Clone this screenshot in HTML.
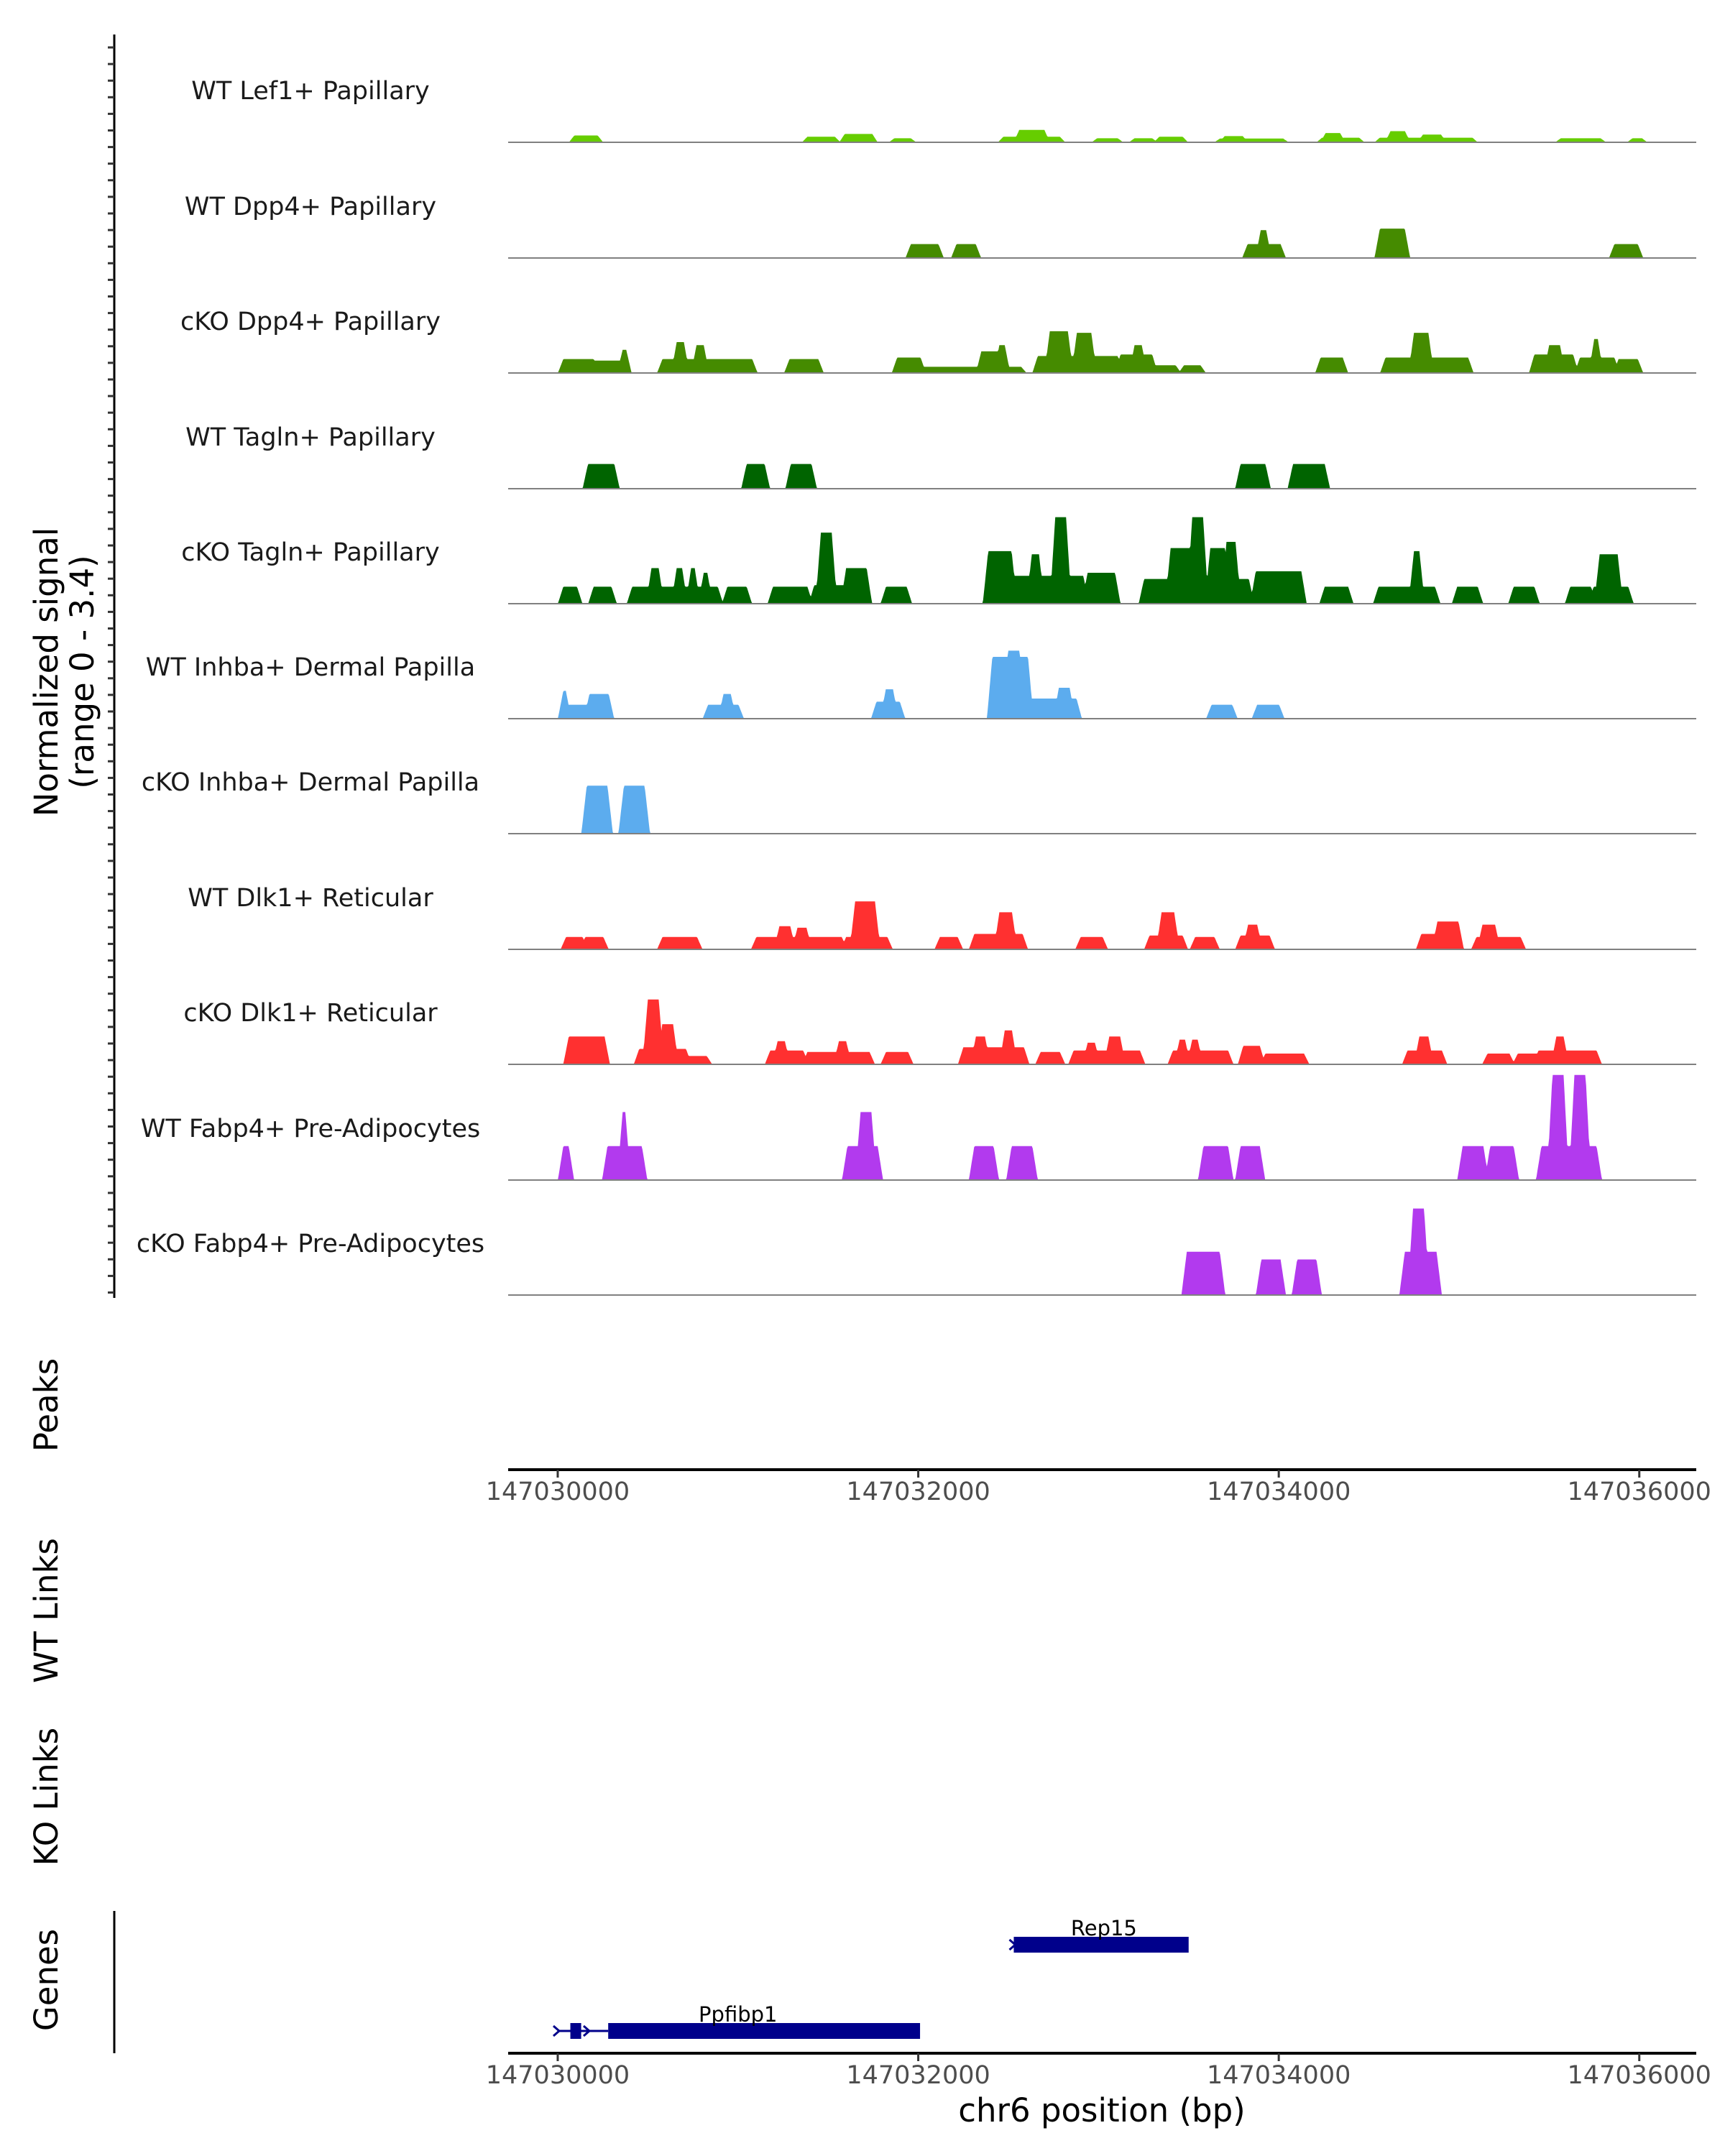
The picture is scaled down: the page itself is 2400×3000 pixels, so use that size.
<!DOCTYPE html>
<html><head><meta charset="utf-8"><style>
html,body{margin:0;padding:0;background:#fff}
svg{display:block}
text{font-family:"DejaVu Sans","Liberation Sans",sans-serif}
</style></head><body>
<svg id="chart" width="2400" height="3000" viewBox="0 0 2400 3000" xmlns="http://www.w3.org/2000/svg">
<g id="tracks"></g>
<g id="axes"></g>
</svg>
<script>
const trackNames = ["WT Lef1+ Papillary","WT Dpp4+ Papillary","cKO Dpp4+ Papillary","WT Tagln+ Papillary","cKO Tagln+ Papillary","WT Inhba+ Dermal Papilla","cKO Inhba+ Dermal Papilla","WT Dlk1+ Reticular","cKO Dlk1+ Reticular","WT Fabp4+ Pre-Adipocytes","cKO Fabp4+ Pre-Adipocytes"];
const trackColors = ["#66CD00","#458B00","#458B00","#006400","#006400","#5CACEE","#5CACEE","#FF3030","#FF3030","#B23AEE","#B23AEE"];
// peaks: [start offset bp from 147030000, end offset bp, normalized height]
const peaksLef1WT = [[92,222,0.22],[1385,1538,0.18],[1592,1745,0.27],[1867,1959,0.13],[2472,2786,0.18],[2560,2700,0.4],[2992,3107,0.13],[3199,3298,0.13],[3337,3467,0.18],[3673,4025,0.12],[3700,3800,0.2],[4240,4446,0.15],[4260,4340,0.3],[4561,5074,0.15],[4620,4700,0.36],[4800,4900,0.25],[5564,5786,0.13],[5962,6015,0.13]];
const peaksDpp4WT = [[1959,2112,0.45],[2212,2319,0.45],[3827,4010,0.45],[3900,3930,0.9],[4561,4699,0.95],[5862,5992,0.45]];
const peaksDpp4KO = [[31,199,0.45],[199,352,0.4],[360,380,0.75],[581,1079,0.45],[660,700,1.0],[770,810,0.9],[1286,1446,0.45],[1883,2013,0.5],[2013,2571,0.2],[2350,2450,0.7],[2450,2480,0.9],[2663,3107,0.55],[2730,2830,1.35],[2880,2960,1.3],[3122,3298,0.6],[3200,3240,0.9],[3314,3428,0.25],[3474,3566,0.25],[4232,4355,0.5],[4592,5051,0.5],[4750,4830,1.3],[5418,5633,0.6],[5500,5560,0.9],[5671,5862,0.5],[5750,5770,1.1],[5885,5992,0.45]];
const peaksTaglnWT = [[168,314,0.8],[1048,1148,0.8],[1293,1408,0.8],[3788,3926,0.8],[4079,4255,0.8]];
const peaksTaglnKO = [[31,107,0.55],[199,298,0.55],[413,888,0.55],[520,560,1.15],[660,690,1.15],[740,760,1.15],[810,830,1.0],[941,1048,0.55],[1194,1385,0.55],[1423,1592,0.6],[1460,1520,2.3],[1600,1714,1.15],[1821,1936,0.55],[2388,2518,1.7],[2533,2916,0.9],[2630,2670,1.6],[2760,2820,2.8],[2939,3092,1.0],[3253,3834,0.8],[3400,3520,1.8],[3520,3580,2.8],[3620,3700,1.8],[3710,3760,2.0],[3872,4125,1.05],[4255,4385,0.55],[4553,4867,0.55],[4750,4780,1.7],[4990,5104,0.55],[5303,5418,0.55],[5617,5732,0.55],[5747,5939,0.55],[5780,5880,1.6]];
const peaksInhbaWT = [[31,161,0.45],[31,45,0.9],[176,283,0.8],[834,1003,0.45],[920,960,0.8],[1768,1898,0.55],[1820,1860,0.95],[2411,2609,2.0],[2500,2560,2.2],[2609,2878,0.65],[2780,2840,1.0],[3627,3742,0.45],[3880,4002,0.45]];
const peaksInhbaKO = [[161,276,1.55],[367,482,1.55]];
const peaksDlk1WT = [[46,138,0.4],[153,253,0.4],[581,773,0.4],[1102,1576,0.4],[1230,1290,0.75],[1330,1380,0.7],[1600,1829,0.4],[1650,1760,1.55],[2120,2219,0.4],[2311,2579,0.5],[2450,2520,1.2],[2901,3023,0.4],[3283,3467,0.45],[3350,3420,1.2],[3536,3643,0.4],[3788,3949,0.45],[3830,3880,0.8],[4791,4997,0.5],[4880,4997,0.9],[5097,5342,0.4],[5130,5200,0.8]];
const peaksDlk1KO = [[61,260,0.9],[452,712,0.5],[500,560,2.1],[580,640,1.3],[720,827,0.27],[1179,1362,0.45],[1220,1260,0.75],[1385,1500,0.4],[1500,1730,0.4],[1560,1600,0.75],[1821,1944,0.4],[2250,2587,0.55],[2320,2370,0.9],[2480,2520,1.1],[2679,2786,0.4],[2862,3230,0.45],[2940,2980,0.7],[3060,3120,0.9],[3413,3719,0.45],[3450,3480,0.8],[3520,3550,0.8],[3803,3895,0.6],[3926,4025,0.35],[4025,4140,0.35],[4714,4905,0.45],[4780,4830,0.9],[5158,5280,0.35],[5326,5434,0.35],[5441,5763,0.45],[5540,5580,0.9]];
const peaksFabp4WT = [[31,61,1.1],[276,467,1.1],[360,375,2.2],[1607,1775,1.1],[1680,1740,2.2],[2311,2418,1.1],[2518,2633,1.1],[3582,3719,1.1],[3788,3895,1.1],[5020,5135,1.1],[5173,5303,1.1],[5457,5763,1.1],[5518,5580,3.4],[5640,5702,3.4]];
const peaksFabp4KO = [[3490,3673,1.4],[3903,4010,1.15],[4102,4209,1.15],[4699,4875,1.4],[4745,4806,2.8]];
const allPeaks = [peaksLef1WT,peaksDpp4WT,peaksDpp4KO,peaksTaglnWT,peaksTaglnKO,peaksInhbaWT,peaksInhbaKO,peaksDlk1WT,peaksDlk1KO,peaksFabp4WT,peaksFabp4KO];
const xTicks = [147030000,147032000,147034000,147036000];
const genes = [["Rep15",147032530,147033500,1,147033030],["Ppfibp1",147030280,147032010,2,147031000]];
const ppfibp1Exon = [147030070,147030130];
const domain = [147029725,147036316];

const NS="http://www.w3.org/2000/svg";
const X0=707,X1=2360;
function x(bp){return X0+(bp-domain[0])/(domain[1]-domain[0])*(X1-X0);}
const baselines=[198,359,519,680,840,1000,1160,1321,1481,1642,1802];
const yUnit=43;
function y(t,v){return baselines[t]-v*yUnit;}
function mk(tag,attrs,parent){const e=document.createElementNS(NS,tag);for(const k in attrs)e.setAttribute(k,attrs[k]);parent.appendChild(e);return e;}
function txt(s,attrs,parent){const e=mk("text",attrs,parent);e.textContent=s;return e;}

const tg=document.getElementById("tracks");
const ag=document.getElementById("axes");
const RAMP=30,BIN=5;
allPeaks.forEach((pk,t)=>{
  const g=mk("g",{},tg);
  
  
  const lab=txt(trackNames[t],{x:432,y:baselines[t]-60,"font-size":35,"text-anchor":"middle",fill:"#1a1a1a"},g);
  
  
  let d="M"+x(domain[0])+","+y(t,0);
  for(let o=-275;o<=6316;o+=BIN){
    let v=0;
    for(const p of pk){
      let val=0;
      if(o>=p[0]&&o<=p[1])val=p[2];
      else if(o>p[0]-RAMP&&o<p[0])val=p[2]*(o-(p[0]-RAMP))/RAMP;
      else if(o>p[1]&&o<p[1]+RAMP)val=p[2]*((p[1]+RAMP)-o)/RAMP;
      if(val>v)v=val;
    }
    d+=" L"+x(147030000+o).toFixed(1)+","+y(t,v).toFixed(1);
  }
  d+=" L"+x(domain[1])+","+y(t,0)+"Z";
  const a=mk("path",{d:d,fill:trackColors[t]},g);
  
  
  const bl=mk("line",{x1:X0,x2:X1,y1:baselines[t],y2:baselines[t],stroke:"#808080","stroke-width":2},g);
  
  
});

// left axis
const la=mk("line",{x1:159,x2:159,y1:48,y2:1806,stroke:"#000","stroke-width":3},ag);


for(let yy=66;yy<=1800;yy+=23.1){
  const tk=mk("line",{x1:150,x2:159,y1:yy,y2:yy,stroke:"#333","stroke-width":3},ag);
  
  
}
const yt=txt("Normalized signal",{x:0,y:0,"font-size":45,"text-anchor":"middle",transform:"translate(80,935) rotate(-90)",fill:"#000"},ag);


const yt2=txt("(range 0 - 3.4)",{x:0,y:0,"font-size":45,"text-anchor":"middle",transform:"translate(130,935) rotate(-90)",fill:"#000"},ag);



function sideLabel(s,cy,name){const e=txt(s,{x:0,y:0,"font-size":45,"text-anchor":"middle",transform:"translate(80,"+cy+") rotate(-90)",fill:"#000"},ag);}
sideLabel("Peaks",1955,"peaks-label");
sideLabel("WT Links",2241,"wt-links-label");
sideLabel("KO Links",2500,"ko-links-label");
sideLabel("Genes",2755,"genes-label");
const gl=mk("line",{x1:159,x2:159,y1:2659,y2:2857,stroke:"#000","stroke-width":3},ag);



function xAxis(yy,name){
  const l=mk("line",{x1:X0,x2:X1,y1:yy,y2:yy,stroke:"#000","stroke-width":4},ag);
  
  
  xTicks.forEach(v=>{
    const tk=mk("line",{x1:x(v),x2:x(v),y1:yy,y2:yy+11,stroke:"#333","stroke-width":3},ag);
    
    
    const tl=txt(String(v),{x:x(v),y:yy+42,"font-size":35,"text-anchor":"middle",fill:"#4d4d4d"},ag);
    
    
  });
}
xAxis(2045,"peaks-x-axis");
xAxis(2857,"genes-x-axis");
const xt=txt("chr6 position (bp)",{x:1533,y:2952,"font-size":45,"text-anchor":"middle",fill:"#000"},ag);



// genes
const rowY={1:2706,2:2826};
genes.forEach(gd=>{
  const gy=rowY[gd[3]];
  const gg=mk("g",{},ag);
  
  
  if(gd[3]===2){
    mk("line",{x1:x(147030000),x2:x(gd[1]),y1:gy,y2:gy,stroke:"#00008B","stroke-width":3},gg);
    mk("rect",{x:x(ppfibp1Exon[0]),y:gy-11,width:x(ppfibp1Exon[1])-x(ppfibp1Exon[0]),height:22,fill:"#00008B"},gg);
    mk("path",{d:"M"+(x(147030000)-6)+","+(gy-7)+" l8,7 l-8,7 M"+(x(147030000)+36)+","+(gy-7)+" l8,7 l-8,7",stroke:"#00008B","stroke-width":3,fill:"none"},gg);
  } else {
    mk("path",{d:"M"+(x(gd[1])-6)+","+(gy-7)+" l8,7 l-8,7",stroke:"#00008B","stroke-width":3,fill:"none"},gg);
  }
  mk("rect",{x:x(gd[1]),y:gy-11,width:x(gd[2])-x(gd[1]),height:22,fill:"#00008B"},gg);
  txt(gd[0],{x:x(gd[4]),y:gy-13,"font-size":29,"text-anchor":"middle",fill:"#000"},gg);
});
</script>
</body></html>
